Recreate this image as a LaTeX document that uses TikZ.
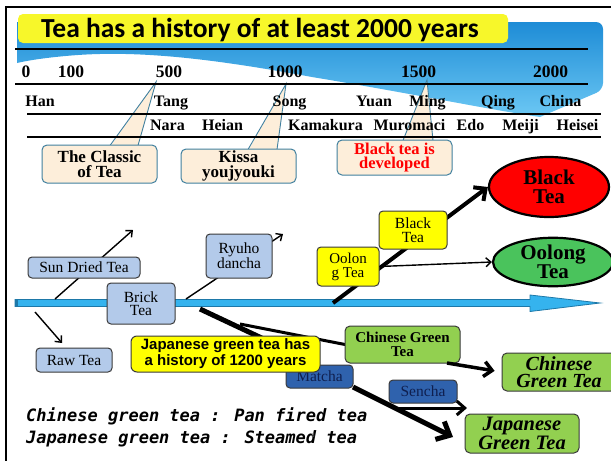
\documentclass[tikz,border=0pt]{standalone}
\usepackage{fontspec}
\setmainfont{Liberation Serif}
\newfontfamily\titlef{Carlito}
\newfontfamily\sansf{Liberation Sans}
\newfontfamily\monof{DejaVu Sans Mono}
\usetikzlibrary{arrows.meta,shapes.geometric}
\definecolor{hdrtop}{HTML}{1E8CD6}
\definecolor{hdrbot}{HTML}{6CC8F4}
\definecolor{titleyel}{HTML}{F7F72A}
\definecolor{beige}{HTML}{FDEEDA}
\definecolor{callline}{HTML}{41809F}
\definecolor{bluebox}{HTML}{B3CAEA}
\definecolor{boxline}{HTML}{3A3A3A}
\definecolor{yel}{HTML}{FFFF00}
\definecolor{darkbl}{HTML}{2F62AD}
\definecolor{navy}{HTML}{0F1F4F}
\definecolor{grn}{HTML}{92D050}
\definecolor{oolg}{HTML}{4AC35C}
\definecolor{barfill}{HTML}{35B3EE}
\definecolor{barline}{HTML}{1D78A8}
\tikzset{
  tl/.style={inner sep=0pt, anchor=base, font=\fontsize{16}{16}\selectfont\bfseries},
  num/.style={inner sep=0pt, anchor=base, font=\fontsize{17.5}{17.5}\selectfont\bfseries},
  callbox/.style={draw=callline, line width=1pt, fill=beige, rounded corners=5pt, inner sep=0pt, align=center, font=\fontsize{17}{15}\selectfont\bfseries},
  bbox/.style={draw=boxline, line width=1pt, rounded corners=4pt, fill=bluebox, inner sep=0pt, align=center, font=\fontsize{15.5}{13.5}\selectfont},
  ybox/.style={bbox, fill=yel},
  dbox/.style={bbox, fill=darkbl, text=navy},
  gbox/.style={draw=boxline, line width=1pt, rounded corners=5pt, fill=grn, inner sep=0pt, align=center},
  ell/.style={ellipse, draw=black, line width=2.2pt, inner sep=0pt, align=center, font=\fontsize{21}{19.5}\selectfont\bfseries},
  thin/.style={line width=1.4pt, -{Straight Barb[length=5pt,width=9pt]}},
}
\begin{document}
\begin{tikzpicture}[x=1pt,y=-1pt]
\useasboundingbox (0,0) rectangle (611,461);
\fill[white] (0,0) rectangle (611,461);
% frame
\draw[line width=2pt] (5,6.5) -- (611,6.5);
\draw[line width=2pt] (6,6.5) -- (6,461);
% blue header band
\shade[top color=hdrtop, bottom color=hdrbot]
  (17,22) {[rounded corners=7pt] -- (603,22) -- (603,90)} -- (540,117)
  .. controls (480,108) and (420,95) .. (312,77)
  .. controls (230,62) and (150,50) .. (78,55)
  .. controls (50,57) and (30,60) .. (17,63) -- cycle;
% title
\node[fill=titleyel, rounded corners=5pt, minimum width=490pt, minimum height=29pt, inner sep=0pt] (titlebox) at (263,28.5) {};
\node[inner sep=0pt, anchor=base west, font=\titlef\fontsize{27.5}{27.5}\selectfont\bfseries] (title) at (41,37) {Tea has a history of at least 2000 years};
% callout pointers (behind timeline)
\coordinate (pa1) at (156,82);
\coordinate (pa2) at (286,84);
\coordinate (pa3) at (427,80);
\fill[beige] (pa1) -- (110,147) -- (138,147) -- cycle;
\draw[callline, line width=0.9pt] (110,145.5) -- (pa1) -- (138,145.5);
\fill[beige] (pa2) -- (248,151) -- (277,151) -- cycle;
\draw[callline, line width=0.9pt] (248,149.5) -- (pa2) -- (277,149.5);
\fill[beige] (pa3) -- (403,142) -- (433,142) -- cycle;
\draw[callline, line width=0.9pt] (403,140.5) -- (pa3) -- (433,140.5);
% timeline rules
\draw[line width=2pt] (15,49) -- (588,49);
\draw[line width=2pt] (15,84) -- (588,84);
\draw[line width=2pt] (27,114) -- (601,114);
\draw[line width=2pt] (27,137) -- (601,137);
% numbers
\node[num] (n0) at (26,77) {0};
\node[num] (n100) at (71,77) {100};
\node[num] (n500) at (169,77) {500};
\node[num] (n1000) at (285,77) {1000};
\node[num] (n1500) at (418.5,77) {1500};
\node[num] (n2000) at (550.5,77) {2000};
% chinese dynasties
\node[tl] (han) at (40,106) {Han};
\node[tl] (tang) at (171,106) {Tang};
\node[tl] (song) at (289.5,106) {Song};
\node[tl] (yuan) at (374,106) {Yuan};
\node[tl] (ming) at (427.5,106) {Ming};
\node[tl] (qing) at (498,106) {Qing};
\node[tl] (china) at (560.5,106) {China};
% japanese periods
\node[tl] (nara) at (167.5,130) {Nara};
\node[tl] (heian) at (222.5,130) {Heian};
\node[tl] (kamakura) at (325.5,130) {Kamakura};
\node[tl] (muromaci) at (409.5,130) {Muromaci};
\node[tl] (edo) at (470.5,130) {Edo};
\node[tl] (meiji) at (520.5,130) {Meiji};
\node[tl] (heisei) at (577.5,130) {Heisei};
% callout boxes
\node[callbox, minimum width=115pt, minimum height=38pt] (classic) at (99.5,164) {The Classic\\of Tea};
\node[callbox, minimum width=115pt, minimum height=34pt] (kissa) at (238.5,166) {Kissa\\youjyouki};
\node[callbox, minimum width=115pt, minimum height=35pt, text=red, font=\fontsize{16.5}{13.5}\selectfont\bfseries] (blackdev) at (394.5,157.5) {Black tea is\\developed};
% main time arrow
\fill[barfill, draw=barline, line width=0.8pt] (15,299.5) -- (530,299.5) -- (530,295) -- (600,303) -- (530,311.5) -- (530,306.5) -- (15,306.5) -- cycle;
\fill[barline] (15,299.5) rectangle (18,306.5);
% coordinates on/near the bar
\coordinate (sd0) at (55,299);
\coordinate (sd1) at (133,230);
\coordinate (ry0) at (186,299);
\coordinate (ry1) at (283,234);
\coordinate (rw0) at (35,312);
\coordinate (rw1) at (62,343);
\coordinate (bt0) at (333,303);
\coordinate (bm0) at (200,309);
\coordinate (br0) at (240,324);
\coordinate (mj1) at (453,437);
\coordinate (se0) at (397,408);
\coordinate (se1) at (467,408);
\coordinate (cg0) at (447,363);
% ellipses
\node[ell, fill=red, minimum width=120pt, minimum height=60pt] (blackell) at (549,187) {Black\\Tea};
\node[ell, fill=oolg, minimum width=120pt, minimum height=45pt] (oolongell) at (553,262) {Oolong\\Tea};
% thin arrows
\draw[thin] (sd0) -- (sd1);
\draw[thin] (ry0) -- (ry1);
\draw[thin] (rw0) -- (rw1);
% thick lines
\draw[line width=4pt, -{Straight Barb[length=9pt,width=17pt]}] (bt0) -- (blackell.west);
\draw[line width=5pt] (bm0) -- (319,365);
\draw[line width=3pt] (br0) -- (345,344.5);
\draw[line width=5pt, -{Straight Barb[length=11pt,width=20pt]}] (353,387) -- (mj1);
\draw[line width=3pt, -{Straight Barb[length=8pt,width=14pt]}] (se0) -- (se1);
% boxes
\node[bbox, minimum width=112pt, minimum height=21pt] (sundried) at (84,267.5) {Sun Dried Tea};
\node[bbox, minimum width=68pt, minimum height=41pt] (brick) at (141,303.5) {Brick\\Tea};
\node[bbox, minimum width=66pt, minimum height=44pt] (ryuho) at (239,256) {Ryuho\\dancha};
\node[bbox, minimum width=76pt, minimum height=24pt] (raw) at (74,360) {Raw Tea};
\node[ybox, minimum width=62pt, minimum height=39pt, font=\fontsize{15}{14}\selectfont] (oolongbox) at (348,266.5) {Oolon\\g Tea};
\node[ybox, minimum width=68pt, minimum height=38pt] (blackbox) at (413,230) {Black\\Tea};
\draw[line width=1.4pt, -{Straight Barb[length=5pt,width=9pt]}] (oolongbox.east) -- (oolongell.west);
\node[dbox, minimum width=67pt, minimum height=23pt] (matcha) at (319.5,376.5) {Matcha};
\node[dbox, minimum width=68pt, minimum height=23pt] (sencha) at (423,391.5) {Sencha};
\node[gbox, minimum width=115pt, minimum height=37pt, font=\fontsize{15}{13.5}\selectfont\bfseries] (cgts) at (402.5,344.5) {Chinese Green\\Tea};
\node[gbox, minimum width=114pt, minimum height=38pt, font=\fontsize{20}{17}\selectfont\bfseries\itshape] (cgtb) at (559,372) {Chinese\\Green Tea};
\node[gbox, minimum width=114pt, minimum height=39pt, font=\fontsize{20.5}{17}\selectfont\bfseries\itshape] (jgt) at (522,433.5) {Japanese\\Green Tea};
\draw[line width=3.5pt, shorten >=7pt, -{Straight Barb[length=8pt,width=15pt]}] (cg0) -- (cgtb.west);
\node[ybox, minimum width=189pt, minimum height=36pt, rounded corners=6pt, font=\sansf\fontsize{15}{16}\selectfont\bfseries] (japhist) at (225.5,354) {Japanese green tea has\\a history of 1200 years};
% bottom notes
\node[inner sep=0pt, anchor=base west, font=\monof\fontsize{17}{17}\selectfont\bfseries\itshape] (note1) at (26,421) {Chinese green tea : Pan fired tea};
\node[inner sep=0pt, anchor=base west, font=\monof\fontsize{17}{17}\selectfont\bfseries\itshape] (note2) at (26,443) {Japanese green tea : Steamed tea};
\node[inner sep=0pt, text=gray, font=\fontsize{6}{6}\selectfont] (pg) at (313,436) {8};
\end{tikzpicture}
\end{document}
